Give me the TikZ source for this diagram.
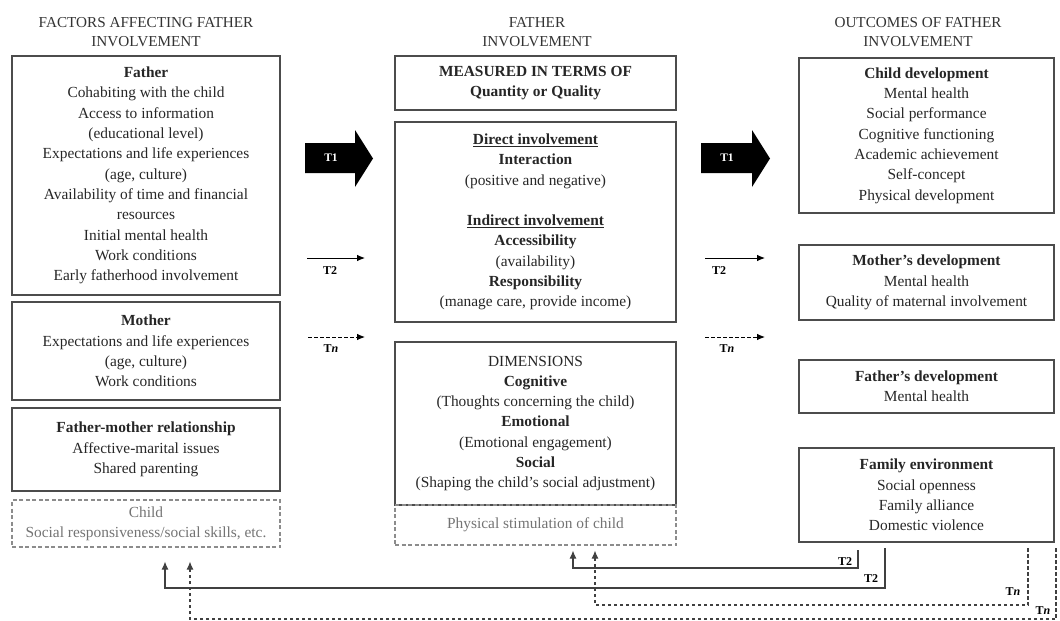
\documentclass[tikz,border=0pt]{standalone}
\usepackage{fontspec}
\setmainfont{Liberation Serif}
\usetikzlibrary{calc,arrows.meta}
\begin{document}
\begin{tikzpicture}[x=1pt,y=-1pt,
  every node/.style={font=\fontsize{15.4}{20.3}\selectfont, text=black!85},
  box/.style={draw=black!70, line width=1.4pt, align=center, inner sep=2pt},
  gbox/.style={draw=black!45, line width=1.1pt, dash pattern=on 4pt off 2.5pt,
    align=center, inner sep=2pt, text=black!55},
  title/.style={align=center, font=\fontsize{15.2}{19}\selectfont, text=black!80},
  tlab/.style={font=\fontsize{12}{13}\selectfont\bfseries, text=black, inner sep=1pt},
  arrlab/.style={font=\fontsize{11.5}{12}\selectfont\bfseries, text=white, inner sep=1pt},
  bigarrow/.style={fill=black},
  solidarrow/.style={draw=black, line width=0.9pt, -{Latex[length=8pt,width=6.5pt]}},
  dasharrow/.style={solidarrow, dash pattern=on 3.5pt off 2.5pt},
  fbsolid/.style={draw=black!75, line width=1.1pt, -{Latex[length=8pt,width=7pt]}},
  fbdash/.style={fbsolid, dash pattern=on 3.5pt off 2.5pt},
]
\useasboundingbox (0,0) rectangle (1060,621);

% column headings
\node[title] (h1) at (146,32.5) {FACTORS AFFECTING FATHER\\INVOLVEMENT};
\node[title] (h2) at (537,32.5) {FATHER\\INVOLVEMENT};
\node[title] (h3) at (918,32.5) {OUTCOMES OF FATHER\\INVOLVEMENT};

% factors
\node[box, minimum width=268pt, minimum height=239pt] (father) at (146,175.5)
  {\textbf{Father}\\Cohabiting with the child\\Access to information\\(educational level)\\
   Expectations and life experiences\\(age, culture)\\Availability of time and financial\\
   resources\\Initial mental health\\Work conditions\\Early fatherhood involvement};
\node[box, minimum width=268pt, minimum height=98pt] (mother) at (146,351)
  {\textbf{Mother}\\Expectations and life experiences\\(age, culture)\\Work conditions};
\node[box, minimum width=268pt, minimum height=83pt] (fmr) at (146,449.5)
  {\textbf{Father-mother relationship}\\Affective-marital issues\\Shared parenting};
\node[gbox, minimum width=268pt, minimum height=47pt] (child) at (146,523.5)
  {Child\\Social responsiveness/social skills, etc.};

% father involvement
\node[box, minimum width=281pt, minimum height=54pt] (measured) at (535.5,83)
  {\textbf{MEASURED IN TERMS OF}\\\textbf{Quantity or Quality}};
\node[box, minimum width=281pt, minimum height=200pt] (invol) at (535.5,222)
  {\textbf{\underline{Direct involvement}}\\\textbf{Interaction}\\(positive and negative)\\[20.3pt]
   \textbf{\underline{Indirect involvement}}\\\textbf{Accessibility}\\(availability)\\
   \textbf{Responsibility}\\(manage care, provide income)};
\node[box, minimum width=281pt, minimum height=163pt] (dims) at (535.5,423.5)
  {DIMENSIONS\\\textbf{Cognitive}\\(Thoughts concerning the child)\\\textbf{Emotional}\\
   (Emotional engagement)\\\textbf{Social}\\(Shaping the child’s social adjustment)};
\node[gbox, minimum width=281pt, minimum height=40pt] (phys) at (535.5,525)
  {Physical stimulation of child};

% outcomes
\node[box, minimum width=255pt, minimum height=155pt] (childdev) at (926.5,135.5)
  {\textbf{Child development}\\Mental health\\Social performance\\Cognitive functioning\\
   Academic achievement\\Self-concept\\Physical development};
\node[box, minimum width=255pt, minimum height=75pt] (motherdev) at (926.5,282.5)
  {\textbf{Mother’s development}\\Mental health\\Quality of maternal involvement};
\node[box, minimum width=255pt, minimum height=53pt] (fatherdev) at (926.5,386.5)
  {\textbf{Father’s development}\\Mental health};
\node[box, minimum width=255pt, minimum height=94pt] (family) at (926.5,495)
  {\textbf{Family environment}\\Social openness\\Family alliance\\Domestic violence};

% time arrows: T1 block arrows
\fill[bigarrow] (305,143) -- (355,143) -- (355,130) -- (373,158.5) -- (355,187)
  -- (355,173) -- (305,173) -- cycle;
\node[arrlab] (t1a) at (331,158) {T1};
\fill[bigarrow] (701,143) -- (752,143) -- (752,130) -- (770,158.5) -- (752,187)
  -- (752,173) -- (701,173) -- cycle;
\node[arrlab] (t1b) at (727,158) {T1};

% T2 and Tn arrows
\coordinate (t2as) at (307,258); \coordinate (t2ae) at (365,258);
\draw[solidarrow] (t2as) -- (t2ae);
\node[tlab] (t2al) at (330,271) {T2};
\coordinate (t2bs) at (705,258); \coordinate (t2be) at (765,258);
\draw[solidarrow] (t2bs) -- (t2be);
\node[tlab] (t2bl) at (719,271) {T2};
\coordinate (tnas) at (308,337); \coordinate (tnae) at (365,337);
\draw[dasharrow] (tnas) -- (tnae);
\node[tlab] (tnal) at (331,349) {T\textit{n}};
\coordinate (tnbs) at (705,337); \coordinate (tnbe) at (765,337);
\draw[dasharrow] (tnbs) -- (tnbe);
\node[tlab] (tnbl) at (727,349) {T\textit{n}};

% feedback loops from the outcomes
\coordinate (a1) at (858,550); \coordinate (a2) at (573,568);
\draw[fbsolid, shorten >=5pt] (a1) -- (a1 |- a2) -- (a2) -- (a2 |- phys.south);
\node[tlab] (fa) at (845,562) {T2};

\coordinate (b1) at (885,548); \coordinate (b2) at (165,588);
\draw[fbsolid, shorten >=14pt] (b1) -- (b1 |- b2) -- (b2) -- (b2 |- child.south);
\node[tlab] (fb) at (871,579) {T2};

\coordinate (c1) at (1028,548); \coordinate (c2) at (595,605);
\draw[fbdash, shorten >=5pt] (c1) -- (c1 |- c2) -- (c2) -- (c2 |- phys.south);
\node[tlab] (fc) at (1013,592) {T\textit{n}};

\coordinate (d1) at (1056,548); \coordinate (d2) at (190,619);
\draw[fbdash, shorten >=14pt] (d1) -- (d1 |- d2) -- (d2) -- (d2 |- child.south);
\node[tlab] (fd) at (1043,611) {T\textit{n}};
\end{tikzpicture}
\end{document}
